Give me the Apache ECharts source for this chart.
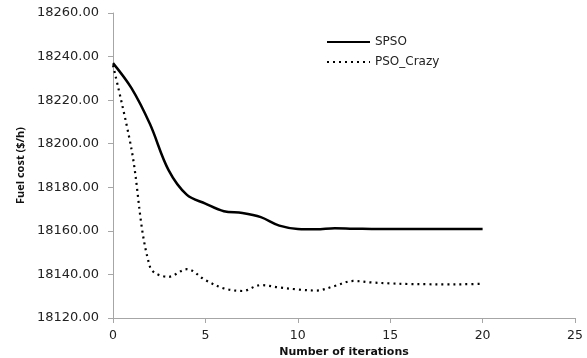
<!DOCTYPE html>
<html>
<head>
<meta charset="utf-8">
<script src="https://cdn.jsdelivr.net/npm/echarts@6/dist/echarts.min.js"></script>
<style>
  html, body { margin: 0; padding: 0; background: #fff; }
  #chart { width: 587px; height: 358px; }
</style>
</head>
<body>
<div id="chart"></div>
<script>
// Convergence of fuel cost per iteration
const iterations = [0, 1, 2, 3, 4, 5, 6, 7, 8, 9, 10, 11, 12, 13, 14, 15, 16, 17, 18, 19, 20];
const spso = [18237, 18225.5, 18209, 18188, 18176.5, 18172.5, 18169, 18168.2, 18166.3, 18162.4, 18160.9,
  18160.7, 18161.2, 18161, 18160.9, 18160.8, 18160.8, 18160.8, 18160.8, 18160.8, 18160.8];
const psoCrazy = [18236, 18197.5, 18143.5, 18138.9, 18142.4, 18137.4, 18133.6, 18132.4, 18135.1, 18134, 18133.1,
  18132.6, 18134.7, 18137, 18136.3, 18135.9, 18135.6, 18135.5, 18135.4, 18135.5, 18135.7];
const yTicks = { min: 18120, max: 18260, step: 20 };
const xTicks = { min: 0, max: 25, step: 5 };

const pairs = (xs, ys) => xs.map((x, i) => [x, ys[i]]);
const font = 'DejaVu Sans';

const chart = echarts.init(document.getElementById('chart'));
chart.setOption({
  animation: false,
  backgroundColor: '#fff',
  grid: { left: 113, right: 12, top: 13, bottom: 40, containLabel: false, outerBoundsMode: 'none' },
  legend: {
    orient: 'vertical',
    left: 326,
    top: 36,
    padding: 0,
    itemWidth: 43,
    itemHeight: 12,
    itemGap: 8,
    itemStyle: { color: 'transparent', borderWidth: 0 },
    textStyle: { fontFamily: font, fontSize: 12, color: '#222' },
    data: ['SPSO', 'PSO_Crazy']
  },
  xAxis: {
    type: 'value',
    min: xTicks.min, max: xTicks.max, interval: xTicks.step,
    name: 'Number of iterations',
    nameLocation: 'middle',
    nameGap: 29,
    nameTextStyle: { fontFamily: font, fontSize: 11, fontWeight: 'bold', color: '#111' },
    axisLine: { lineStyle: { color: '#a6a6a6', width: 1 } },
    axisTick: { show: true, length: 5, lineStyle: { color: '#a6a6a6' } },
    axisLabel: { fontFamily: font, fontSize: 12.5, color: '#222', margin: 11 },
    splitLine: { show: false }
  },
  yAxis: {
    type: 'value',
    min: yTicks.min, max: yTicks.max, interval: yTicks.step,
    name: 'Fuel cost ($/h)',
    nameLocation: 'middle',
    nameGap: 87,
    nameRotate: 90,
    nameTextStyle: { fontFamily: 'Open Sans', fontSize: 11, fontWeight: 'bold', color: '#111' },
    axisLine: { show: true, lineStyle: { color: '#a6a6a6', width: 1 } },
    axisTick: { show: true, length: 5, lineStyle: { color: '#a6a6a6' } },
    axisLabel: { fontFamily: font, fontSize: 13, color: '#222', margin: 14,
      formatter: v => v.toFixed(2) },
    splitLine: { show: false }
  },
  series: [
    {
      name: 'SPSO',
      type: 'line',
      data: pairs(iterations, spso),
      smooth: 0.35,
      symbol: 'none',
      lineStyle: { color: '#000', width: 2.5 },
      itemStyle: { color: '#000' }
    },
    {
      name: 'PSO_Crazy',
      type: 'line',
      data: pairs(iterations, psoCrazy),
      smooth: 0.35,
      symbol: 'none',
      lineStyle: { color: '#000', width: 2.2, type: [2, 4] },
      itemStyle: { color: '#000' }
    }
  ]
});
</script>
</body>
</html>
